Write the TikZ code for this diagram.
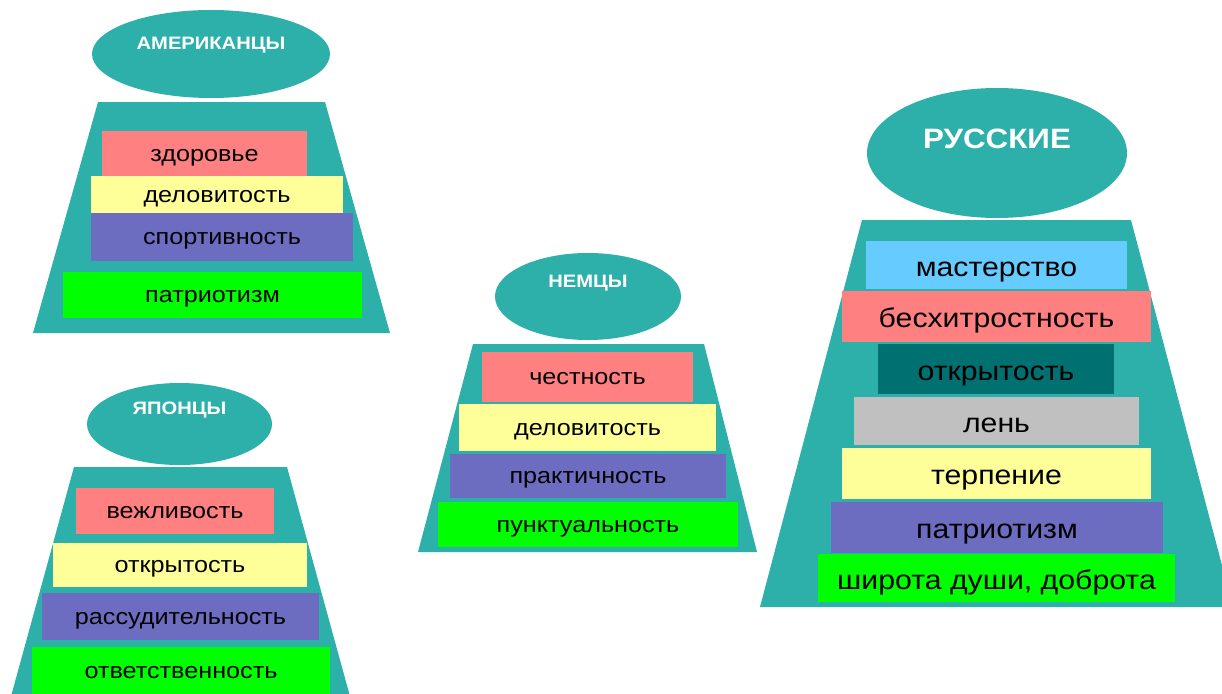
\documentclass[tikz,border=0pt]{standalone}
\usepackage{fontspec}
\setmainfont{Liberation Sans}[FakeStretch=1.12]
\usetikzlibrary{shapes.geometric}
\definecolor{tealc}{RGB}{46,176,170}
\definecolor{pinkc}{RGB}{255,128,128}
\definecolor{yelc}{RGB}{255,255,153}
\definecolor{purc}{RGB}{108,108,192}
\definecolor{grnc}{RGB}{0,255,0}
\definecolor{bluc}{RGB}{102,204,255}
\definecolor{dkc}{RGB}{0,112,112}
\definecolor{grayc}{RGB}{192,192,192}
\tikzset{
  barbox/.style={rectangle, inner sep=0pt, text height=15pt, text depth=0pt,
    font=\fontsize{22.5}{24}\selectfont, text=black},
  bigbar/.style={barbox, text height=22pt, font=\fontsize{27}{29}\selectfont},
  capsule/.style={ellipse, fill=tealc, inner sep=0pt},
  ttl/.style={text=white, font=\bfseries\fontsize{18}{20}\selectfont, inner sep=0pt},
  bigttl/.style={text=white, font=\bfseries\fontsize{28}{30}\selectfont, inner sep=0pt},
  trap/.style={fill=tealc}
}
\begin{document}
\begin{tikzpicture}[x=1pt,y=-1pt]
\clip (0,0) rectangle (1222,693);
\fill[white] (0,0) rectangle (1222,693);

% ---------- Americans ----------
\fill[trap] (98,102) -- (325,102) -- (390,333) -- (33,333) -- cycle;
\node[capsule, minimum width=238pt, minimum height=88pt] (ellA) at (211,54) {};
\node[ttl] (tA) at (211,45) {АМЕРИКАНЦЫ};
\node[barbox, fill=pinkc, minimum width=205pt, minimum height=45pt] (a1) at (204.5,153.5) {здоровье};
\node[barbox, fill=yelc, minimum width=252pt, minimum height=37pt] (a2) at (217,194.5) {деловитость};
\node[barbox, fill=purc, minimum width=262pt, minimum height=48pt] (a3) at (222,237) {спортивность};
\node[barbox, fill=grnc, minimum width=299pt, minimum height=46pt] (a4) at (212.5,295) {патриотизм};

% ---------- Japanese ----------
\fill[trap] (74,467) -- (287,467) -- (351,700) -- (10,700) -- cycle;
\node[capsule, minimum width=185pt, minimum height=82pt] (ellJ) at (179.5,424) {};
\node[ttl] (tJ) at (179.5,410) {ЯПОНЦЫ};
\node[barbox, fill=pinkc, minimum width=198pt, minimum height=46pt] (j1) at (175,511) {вежливость};
\node[barbox, fill=yelc, minimum width=254pt, minimum height=44pt] (j2) at (180,565) {открытость};
\node[barbox, fill=purc, minimum width=277pt, minimum height=47pt] (j3) at (180.5,616.5) {рассудительность};
\node[barbox, fill=grnc, minimum width=298pt, minimum height=48pt] (j4) at (181,671) {ответственность};

% ---------- Germans ----------
\fill[trap] (473,344) -- (704,344) -- (757,552) -- (418,552) -- cycle;
\node[capsule, minimum width=186pt, minimum height=87pt] (ellN) at (588,296.5) {};
\node[ttl] (tN) at (588,283) {НЕМЦЫ};
\node[barbox, fill=pinkc, minimum width=211pt, minimum height=50pt] (n1) at (587.5,377) {честность};
\node[barbox, fill=yelc, minimum width=257pt, minimum height=47pt] (n2) at (587.5,427.5) {деловитость};
\node[barbox, fill=purc, minimum width=276pt, minimum height=44pt] (n3) at (588,476) {практичность};
\node[barbox, fill=grnc, minimum width=300pt, minimum height=45pt] (n4) at (588,524.5) {пунктуальность};

% ---------- Russians ----------
\fill[trap] (862,220) -- (1131,220) -- (1233,607) -- (760,607) -- cycle;
\node[capsule, minimum width=260pt, minimum height=130pt] (ellR) at (997,153) {};
\node[bigttl] (tR) at (997,139) {РУССКИЕ};
\node[bigbar, fill=bluc, minimum width=261pt, minimum height=48pt] (r1) at (996.5,265) {мастерство};
\node[bigbar, fill=pinkc, minimum width=309pt, minimum height=51pt] (r2) at (996.5,316.5) {бесхитростность};
\node[bigbar, fill=dkc, minimum width=236pt, minimum height=50pt] (r3) at (996,369) {открытость};
\node[bigbar, fill=grayc, minimum width=285pt, minimum height=48pt] (r4) at (996.5,421) {лень};
\node[bigbar, fill=yelc, minimum width=309pt, minimum height=51pt] (r5) at (996.5,473.5) {терпение};
\node[bigbar, fill=purc, minimum width=332pt, minimum height=51pt] (r6) at (997,527.5) {патриотизм};
\node[bigbar, fill=grnc, minimum width=357pt, minimum height=48pt] (r7) at (996.5,578) {широта души, доброта};
\end{tikzpicture}
\end{document}
